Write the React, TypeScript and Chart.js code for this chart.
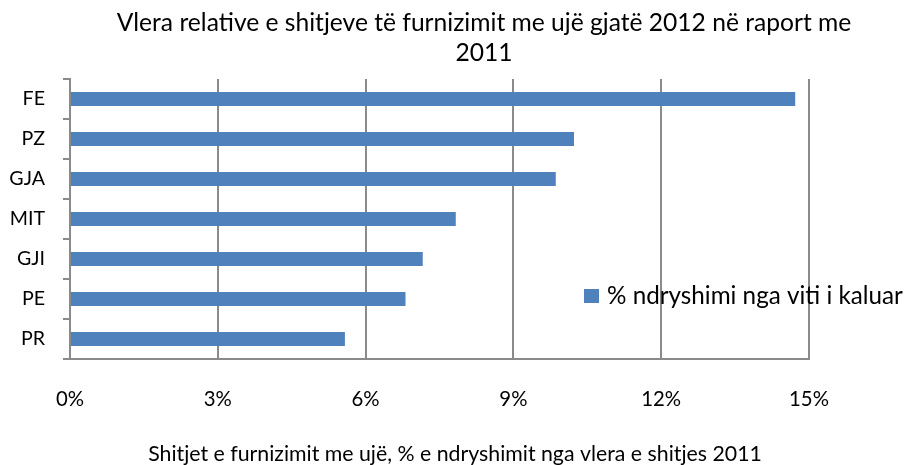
import React, { useEffect, useRef } from "react";
import { Chart, registerables } from "chart.js";

Chart.register(...registerables);

const categories = ["FE", "PZ", "GJA", "MIT", "GJI", "PE", "PR"];
const changeValues = [14.72, 10.23, 9.86, 7.83, 7.16, 6.81, 5.58];
const tickMin = 0;
const tickMax = 15;
const tickStep = 3;
const titleLines = [
  "Vlera relative e shitjeve të furnizimit me ujë gjatë 2012 në raport me",
  "2011",
];
const seriesName = "% ndryshimi nga viti i kaluar";
const xAxisTitle = "Shitjet e furnizimit me ujë, % e ndryshimit nga vlera e shitjes 2011";

const FAMILY = "Lato";
const BAR_COLOR = "#4F81BD";
const LINE_COLOR = "#8a8a8a";
const TEXT_COLOR = "#000000";

function fitSize(text: string, width: number): number {
  const c = document.createElement("canvas").getContext("2d")!;
  c.font = `100px ${FAMILY}`;
  return (100 * width) / c.measureText(text).width;
}

export default function App() {
  const ref = useRef<HTMLCanvasElement | null>(null);

  useEffect(() => {
    document.body.style.margin = "0";
    const canvas = ref.current!;
    const titleSize = fitSize(titleLines[0], 735);
    const legendSize = fitSize(seriesName, 296);
    const xTitleSize = fitSize(xAxisTitle, 614);
    const catSize = (fitSize("MIT", 36) + fitSize("GJA", 35)) / 2;
    const tickSize = (fitSize("0%", 28) + fitSize("15%", 40)) / 2;

    const textPlugin = {
      id: "textPlugin",
      afterDraw(chart: any) {
        const ctx = chart.ctx as CanvasRenderingContext2D;
        ctx.save();
        ctx.fillStyle = TEXT_COLOR;
        ctx.textAlign = "center";
        ctx.textBaseline = "alphabetic";
        ctx.font = `${titleSize}px ${FAMILY}`;
        ctx.fillText(titleLines[0], 484, 31);
        ctx.fillText(titleLines[1], 484, 61);
        ctx.font = `${xTitleSize}px ${FAMILY}`;
        ctx.fillText(xAxisTitle, 455, 461);
        const ds = chart.data.datasets[0];
        ctx.fillStyle = ds.backgroundColor;
        ctx.fillRect(584, 289, 15, 14);
        ctx.fillStyle = TEXT_COLOR;
        ctx.textAlign = "left";
        ctx.font = `${legendSize}px ${FAMILY}`;
        ctx.fillText(ds.label, 607, 304);
        ctx.restore();
      },
    };

    const chart = new Chart(canvas, {
      type: "bar",
      data: {
        labels: categories,
        datasets: [
          {
            label: seriesName,
            data: changeValues,
            backgroundColor: BAR_COLOR,
            borderWidth: 0,
            barPercentage: 0.35,
            categoryPercentage: 1,
          },
        ],
      },
      options: {
        indexAxis: "y",
        animation: false,
        responsive: false,
        layout: { padding: { top: 79, right: 102, left: 0, bottom: 0 } },
        plugins: {
          legend: { display: false },
          title: { display: false },
          tooltip: { enabled: false },
        },
        scales: {
          x: {
            min: tickMin,
            max: tickMax,
            afterFit: (s: any) => {
              s.height = 106;
            },
            ticks: {
              stepSize: tickStep,
              color: TEXT_COLOR,
              font: { family: FAMILY, size: tickSize },
              padding: 28,
              maxRotation: 0,
              callback: (v: any) => `${v}%`,
            },
            grid: {
              color: LINE_COLOR,
              lineWidth: 2,
              drawTicks: false,
            },
            border: { display: true, color: LINE_COLOR, width: 2 },
          },
          y: {
            afterFit: (s: any) => {
              s.width = 70;
            },
            ticks: {
              color: TEXT_COLOR,
              font: { family: FAMILY, size: catSize },
              padding: 18,
            },
            grid: {
              offset: true,
              drawOnChartArea: false,
              drawTicks: true,
              tickLength: 7,
              color: LINE_COLOR,
              lineWidth: 2,
            },
            border: { display: true, color: LINE_COLOR, width: 2 },
          },
        },
      },
      plugins: [textPlugin],
    });
    return () => chart.destroy();
  }, []);

  return (
    <div style={{ position: "relative", width: 911, height: 465 }}>
      <canvas ref={ref} width={911} height={465} />
    </div>
  );
}
